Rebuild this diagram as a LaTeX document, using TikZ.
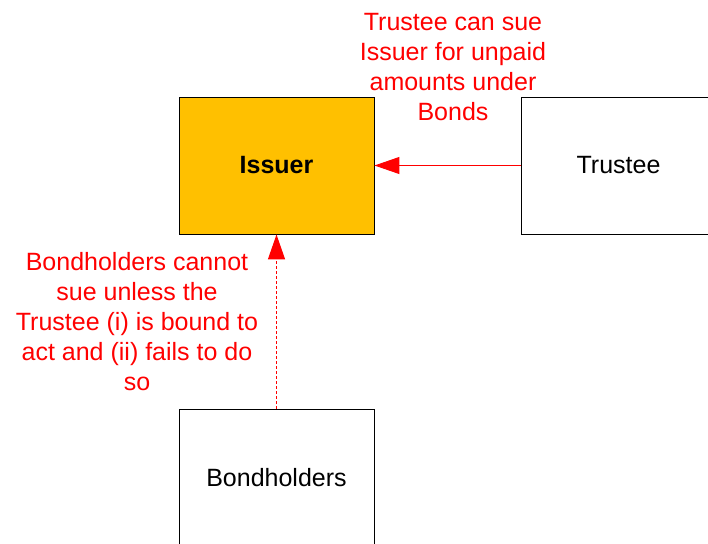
\documentclass[tikz,border=0pt]{standalone}
\usepackage{fontspec}
\setmainfont{Liberation Sans}
\usetikzlibrary{arrows.meta}
\definecolor{issuerfill}{RGB}{255,192,0}
\tikzset{
  party/.style={draw=black, line width=0.9pt, minimum width=195pt, minimum height=137pt, inner sep=0pt, font=\fontsize{25}{29}\selectfont},
  note/.style={text=red, align=center, font=\fontsize{25}{30}\selectfont},
  sue/.style={red, line width=1pt, -{Triangle[length=25pt,width=17pt]}}
}
\begin{document}
\begin{tikzpicture}[x=1pt,y=-1pt]
        \useasboundingbox (0,0) rectangle (708,543);
        \node[party, fill=issuerfill, font=\fontsize{25}{29}\selectfont\bfseries] (issuer) at (276.5,165.5) {Issuer};
        \node[party] (trustee) at (618.5,165.5) {Trustee};
        \node[party] (holders) at (276.5,477.5) {Bondholders};
        \draw[sue] (trustee.west) -- (issuer.east);
        \draw[sue, line width=1.3pt, dash pattern=on 3pt off 2pt] (holders.north) -- (issuer.south);
        \node[note, anchor=base] (trusteenote) at (453,120) {Trustee can sue\\Issuer for unpaid\\amounts under\\Bonds};
        \node[note, anchor=base] (holdersnote) at (137,390) {Bondholders cannot\\sue unless the\\Trustee (i) is bound to\\act and (ii) fails to do\\so};
      \end{tikzpicture}
\end{document}
